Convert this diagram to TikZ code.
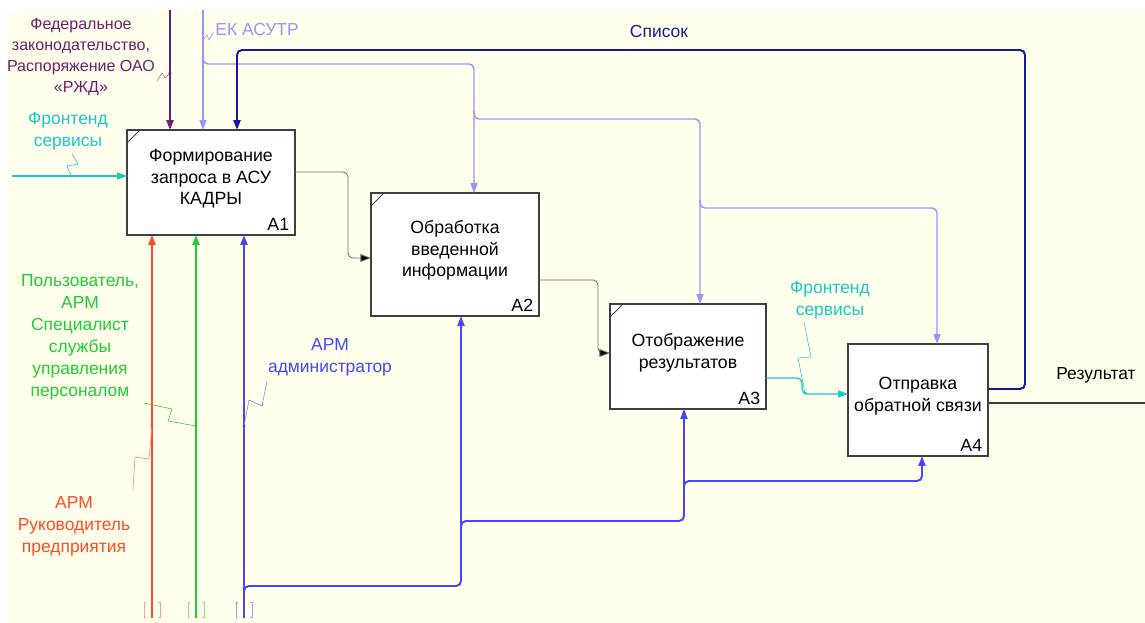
\documentclass[tikz,border=0pt]{standalone}
\usepackage{fontspec}
\setmainfont{Liberation Sans}
\usetikzlibrary{arrows.meta}
\definecolor{paper}{RGB}{255,255,235}
\definecolor{boxc}{RGB}{64,64,64}
\definecolor{fedc}{RGB}{110,30,110}
\definecolor{ekc}{RGB}{150,150,255}
\definecolor{navyc}{RGB}{25,25,160}
\definecolor{fec}{RGB}{25,200,200}
\definecolor{bossc}{RGB}{255,75,40}
\definecolor{userc}{RGB}{30,205,55}
\definecolor{adc}{RGB}{70,70,255}
\definecolor{flowc}{RGB}{110,110,110}

\begin{document}
\begin{tikzpicture}[x=0.025cm, y=-0.025cm, >={Triangle[length=7pt,width=5pt]},
  every node/.style={font=\fontsize{12.4}{15.6}\selectfont},
  box/.style={draw=boxc, fill=white, line width=0.8pt, anchor=north west, inner sep=0pt,
              outer sep=0pt, align=center, text depth=0.28cm, font=\fontsize{12.6}{15.3}\selectfont},
  num/.style={anchor=south east, inner xsep=4pt, inner ysep=3pt, font=\fontsize{12.6}{14}\selectfont},
  lbl/.style={align=center, inner sep=0pt},
  rnd/.style={rounded corners=3.5pt},
  fedline/.style={draw=fedc, line width=1.4pt},
  ekline/.style={draw=ekc, line width=1pt},
  listline/.style={draw=navyc, line width=1.4pt},
  feline/.style={draw=fec, line width=0.9pt},
  flow/.style={draw=flowc, line width=0.6pt, >={Triangle[length=7.5pt,width=5.5pt,fill=black]}},
  outline/.style={draw=boxc, line width=0.9pt},
  bossline/.style={draw=bossc, line width=1.4pt},
  userline/.style={draw=userc, line width=1.4pt},
  adline/.style={draw=adc, line width=1.4pt},
  zig/.style={line width=0.4pt}]

  % sheet
  \fill[white] (0,0) rectangle (1145,623);
  \fill[paper] (8,10) rectangle (1145,623);
  \useasboundingbox (0,0) rectangle (1145,623);

  % activities
  \node[box, minimum width=4.2cm, minimum height=2.625cm] (a1) at (127,130)
    {Формирование\\запроса в АСУ\\КАДРЫ};
  \node[box, minimum width=4.2cm, minimum height=3.075cm] (a2) at (371,193)
    {Обработка\\введенной\\информации};
  \node[box, minimum width=3.9cm, minimum height=2.625cm] (a3) at (610,304)
    {Отображение\\результатов};
  \node[box, minimum width=3.5cm, minimum height=2.8cm] (a4) at (848,344)
    {Отправка\\обратной связи};
  \foreach \b/\n in {a1/A1, a2/A2, a3/A3, a4/A4}
    \node[num] (\b num) at (\b.south east) {\n};
  \foreach \b in {a1, a2, a3}
    \draw[boxc, line width=0.6pt] (\b.north west) ++(0,13) -- ++(13,-13);

  % controls from above
  \coordinate (fedin) at (170,10);
  \coordinate (ekin) at (203,10);
  \draw[fedline, ->] (fedin) -- (fedin |- a1.north);
  \draw[ekline, ->] (ekin) -- (ekin |- a1.north);
  \coordinate (ek1) at (203,56);
  \coordinate (ek2) at (474,111);
  \coordinate (ek3) at (700,200);
  \draw[ekline, rnd, ->] (ek1) |- (474,64) -- (474,0 |- a2.north);
  \draw[ekline, rnd, ->] (ek2) |- (700,119) -- (700,0 |- a3.north);
  \draw[ekline, rnd, ->] (ek3) |- (937,208) -- (937,0 |- a4.north);

  % feedback list
  \draw[listline, rnd, ->] (a4.north east |- 0,389) -| (1025,50) -| (a1.north -| 237,0);

  % inputs and outputs
  \coordinate (fein) at (12,176);
  \draw[feline, ->] (fein) -- (fein -| a1.west);
  \draw[flow, rnd, ->] (a1.east |- 0,172) -| (348,258) -- (a2.west |- 0,258);
  \draw[flow, rnd, ->] (a2.east |- 0,280) -| (598,353) -- (a3.west |- 0,353);
  \draw[feline, rnd, ->] (a3.east |- 0,378) -| (802,394) -- (a4.west |- 0,394);
  \coordinate (resout) at (1145,403);
  \draw[outline] (a4.east |- resout) -- (resout);

  % mechanisms from below
  \coordinate (bossin) at (152,618);
  \coordinate (userin) at (196,618);
  \coordinate (admin) at (244,618);
  \draw[bossline, ->] (bossin) -- (bossin |- a1.south);
  \draw[userline, ->] (userin) -- (userin |- a1.south);
  \draw[adline, ->] (admin) -- (admin |- a1.south);
  \coordinate (ad1) at (244,594);
  \coordinate (ad2) at (461,528);
  \coordinate (ad3) at (684,489);
  \draw[adline, rnd, ->] (ad1) |- (461,586) -- (461,0 |- a2.south);
  \draw[adline, rnd, ->] (ad2) |- (684,521) -- (684,0 |- a3.south);
  \draw[adline, rnd, ->] (ad3) |- (922,481) -- (922,0 |- a4.south);

  % tunnel brackets
  \foreach \m/\c in {bossin/bossc, userin/userc, admin/adc} {
    \draw[\c!55, line width=0.5pt] (\m) ++(-6,-1) -- ++(-2,0) -- ++(0,-15) -- ++(2,0);
    \draw[\c!55, line width=0.5pt] (\m) ++(6,-1) -- ++(2,0) -- ++(0,-15) -- ++(-2,0);
  }

  % labels
  \node[lbl, text=fedc, font=\fontsize{11.4}{15}\selectfont] (fedlbl) at (81,57)
    {Федеральное\\законодательство,\\Распоряжение ОАО\\«РЖД»};
  \node[lbl, text=ekc] (eklbl) at (257,30) {ЕК АСУТР};
  \node[lbl, text=navyc] (listlbl) at (659,31) {Список};
  \node[lbl, text=fec] (fe1lbl) at (68,131) {Фронтенд\\сервисы};
  \node[lbl, text=fec] (fe2lbl) at (830,300) {Фронтенд\\сервисы};
  \node[lbl] (reslbl) at (1096,375) {Результат};
  \node[lbl, text=userc] (userlbl) at (80,337)
    {Пользователь,\\АРМ\\Специалист\\службы\\управления\\персоналом};
  \node[lbl, text=bossc] (bosslbl) at (74,526) {АРМ\\Руководитель\\предприятия};
  \node[lbl, text=adc] (adlbl) at (330,357) {АРМ\\администратор};

  % label ticks
  \coordinate (fedtick) at (170,73);
  \coordinate (ektick) at (203,40);
  \coordinate (fe1tick) at (71,176);
  \coordinate (fe2tick) at (805,393);
  \coordinate (usertick) at (196,426);
  \coordinate (bosstick) at (152,426);
  \coordinate (adtick) at (244,426);
  \draw[zig, fedc!70] (157,81) -- (162,73) -- (165,78) -- (fedtick);
  \draw[zig, ekc] (213,33) -- (209,40) -- (207,35) -- (ektick);
  \draw[zig, fec] (72,154) -- (78,164) -- (67,166) -- (fe1tick);
  \draw[zig, fec] (804,322) -- (811,357) -- (798,358) -- (fe2tick);
  \draw[zig, userc] (144,403) -- (172,409) -- (168,421) -- (usertick);
  \draw[zig, bossc!70] (133,490) -- (135,457) -- (149,459) -- (bosstick);
  \draw[zig, adc!70] (267,381) -- (262,406) -- (249,400) -- (adtick);
  \foreach \t/\c in {fedtick/fedc, ektick/ekc, fe1tick/fec, fe2tick/fec,
                     usertick/userc, bosstick/bossc, adtick/adc}
    \fill[\c] (\t) circle (1.1pt);
\end{tikzpicture}
\end{document}
